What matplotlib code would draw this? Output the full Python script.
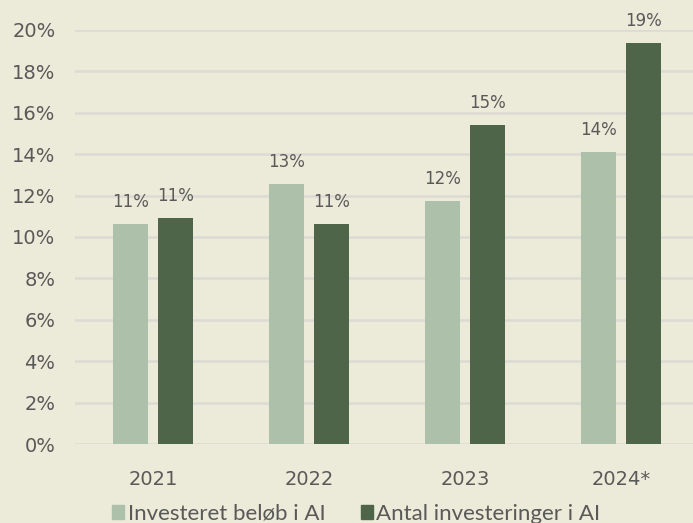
import matplotlib
matplotlib.use("Agg")
import matplotlib.pyplot as plt
import numpy as np
from matplotlib.patches import Patch

categories = ["2021", "2022", "2023", "2024*"]
investeret = [10.64, 12.56, 11.74, 14.12]
antal = [10.92, 10.61, 15.43, 19.39]
inv_labels = ["11%", "13%", "12%", "14%"]
ant_labels = ["11%", "11%", "15%", "19%"]
series_names = ["Investeret beløb i AI", "Antal investeringer i AI"]

bg = "#ECEAD8"
light = "#ADC0A9"
dark = "#4E6549"
txt = "#595959"

fig = plt.figure(figsize=(6.93, 5.23), dpi=100, facecolor=bg)
ax = fig.add_axes([75/693, 1 - 444/523, 624/693, 414/523])
ax.set_facecolor(bg)

x = np.arange(len(categories))
w = 0.224
off = 0.142
b1 = ax.bar(x - off, investeret, w, color=light, zorder=3)
b2 = ax.bar(x + off, antal, w, color=dark, zorder=3)

for rect, lab in zip(list(b1) + list(b2), inv_labels + ant_labels):
    ax.text(rect.get_x() + rect.get_width()/2, rect.get_height() + 1.06, lab,
            ha="center", va="center", color=txt, fontsize=12)

ax.set_ylim(0, 20)
ax.set_xlim(-0.5, 3.5)
ax.set_yticks(np.arange(0, 21, 2))
ax.set_yticklabels([f"{v}%" for v in range(0, 21, 2)])
ax.set_xticks(x)
ax.set_xticklabels(categories)
ax.tick_params(axis="both", length=0, colors=txt, labelsize=14)
ax.tick_params(axis="y", pad=14)
ax.tick_params(axis="x", pad=19)
ax.grid(axis="y", color="#DCDBD3", linewidth=1.8, zorder=0)
for s in ax.spines.values():
    s.set_visible(False)

handles = [Patch(color=light), Patch(color=dark)]
fig.legend(handles, series_names, loc="lower left", bbox_to_anchor=(92/693, -21/523),
           ncol=2, frameon=False, handlelength=0.55, handleheight=0.55,
           handletextpad=0.15, columnspacing=1.6, labelcolor=txt,
           prop={"family": "Lato", "size": 16})

fig.savefig("out.png", dpi=100, facecolor=bg)
